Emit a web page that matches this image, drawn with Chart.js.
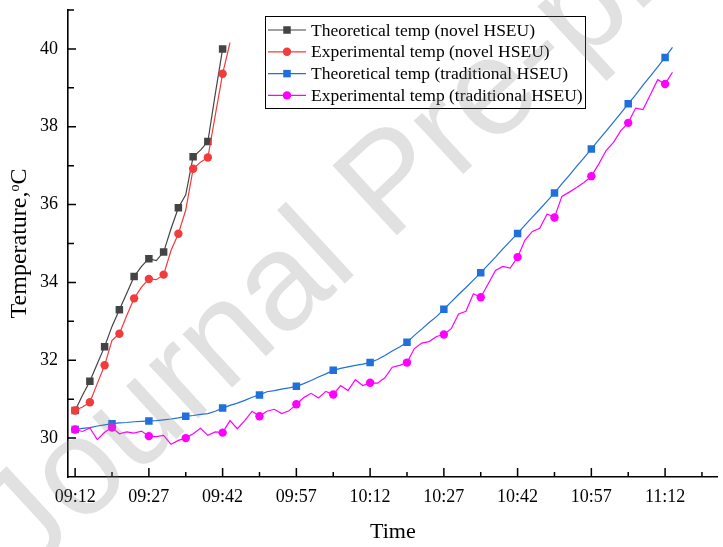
<!DOCTYPE html>
<html>
<head>
<meta charset="utf-8">
<script src="https://cdn.jsdelivr.net/npm/chart.js@4.4.1/dist/chart.umd.min.js"></script>
<style>
html, body { margin: 0; padding: 0; background: #fff; }
</style>
</head>
<body>
<canvas id="chart_temp" width="723" height="547"></canvas>
<script>
// time axis: minutes after 09:12, one reading every 1.5 min
const novelTimes = [0, 1.5, 3, 4.5, 6, 7.5, 9, 10.5, 12, 13.5, 15, 16.5, 18, 19.5, 21, 22.5, 24, 25.5, 27, 28.5, 30, 31.5];
const theoNovel = [30.71, 31.10, 31.46, 31.91, 32.35, 32.87, 33.30, 33.72, 34.15, 34.41, 34.61, 34.56, 34.78, 35.38, 35.92, 36.25, 37.23, 37.40, 37.62, 38.84, 40.00];
const expNovel = [30.71, 30.80, 30.92, 31.40, 31.87, 32.51, 32.68, 33.15, 33.59, 33.88, 34.09, 34.07, 34.20, 34.82, 35.25, 35.86, 36.92, 37.09, 37.21, 38.29, 39.36, 40.16];

const tradTimes = [0, 1.5, 3, 4.5, 6, 7.5, 9, 10.5, 12, 13.5,
  15, 16.5, 18, 19.5, 21, 22.5, 24, 25.5, 27, 28.5,
  30, 31.5, 33, 34.5, 36, 37.5, 39, 40.5, 42, 43.5,
  45, 46.5, 48, 49.5, 51, 52.5, 54, 55.5, 57, 58.5,
  60, 61.5, 63, 64.5, 66, 67.5, 69, 70.5, 72, 73.5,
  75, 76.5, 78, 79.5, 81, 82.5, 84, 85.5, 87, 88.5,
  90, 91.5, 93, 94.5, 96, 97.5, 99, 100.5, 102, 103.5,
  105, 106.5, 108, 109.5, 111, 112.5, 114, 115.5, 117, 118.5,
  120, 121.5];
const theoTrad = [30.22, 30.25, 30.27, 30.31, 30.34, 30.37, 30.39, 30.40, 30.42, 30.43,
  30.44, 30.45, 30.47, 30.49, 30.52, 30.56, 30.58, 30.61, 30.63, 30.69,
  30.77, 30.84, 30.90, 30.97, 31.05, 31.11, 31.19, 31.22, 31.26, 31.29,
  31.33, 31.40, 31.48, 31.57, 31.65, 31.74, 31.79, 31.83, 31.87, 31.90,
  31.94, 32.02, 32.12, 32.24, 32.34, 32.46, 32.64, 32.80, 32.97, 33.12,
  33.31, 33.50, 33.69, 33.87, 34.06, 34.25, 34.45, 34.65, 34.86, 35.06,
  35.26, 35.47, 35.68, 35.88, 36.09, 36.30, 36.53, 36.75, 36.98, 37.20,
  37.43, 37.66, 37.89, 38.12, 38.35, 38.59, 38.82, 39.07, 39.30, 39.54,
  39.78, 40.04];
const expTrad = [30.22, 30.17, 30.26, 29.96, 30.15, 30.27, 30.11, 30.16, 30.13, 30.18,
  30.05, 30.04, 30.07, 29.84, 29.94, 30.00, 30.11, 30.25, 30.07, 30.16,
  30.14, 30.45, 30.24, 30.45, 30.69, 30.56, 30.69, 30.74, 30.63, 30.70,
  30.87, 31.04, 31.15, 31.03, 31.20, 31.12, 31.35, 31.22, 31.50, 31.35,
  31.42, 31.41, 31.55, 31.82, 31.87, 31.94, 32.30, 32.44, 32.48, 32.61,
  32.66, 32.81, 33.19, 33.26, 33.71, 33.62, 33.96, 34.31, 34.41, 34.37,
  34.65, 35.09, 35.31, 35.39, 35.76, 35.67, 36.21, 36.32, 36.44, 36.57,
  36.73, 37.04, 37.39, 37.60, 37.90, 38.10, 38.48, 38.44, 38.82, 39.21,
  39.10, 39.40];

const seriesNames = ['Theoretical temp (novel HSEU)', 'Experimental temp (novel HSEU)',
  'Theoretical temp (traditional HSEU)', 'Experimental temp (traditional HSEU)'];

const xTickValues = [0, 15, 30, 45, 60, 75, 90, 105, 120];
const xTickLabels = ['09:12', '09:27', '09:42', '09:57', '10:12', '10:27', '10:42', '10:57', '11:12'];
const xMinorValues = [7.5, 22.5, 37.5, 52.5, 67.5, 82.5, 97.5, 112.5, 127.5];
const yTickValues = [30, 32, 34, 36, 38, 40];
const yMinorValues = [31, 33, 35, 37, 39, 41];

const serif = '"Liberation Serif", "Times New Roman", serif';

function pairs(times, vals) {
  return vals.map((v, i) => ({ x: times[i], y: v }));
}

function series(label, times, vals, color, style, every, order) {
  return {
    label: label,
    data: pairs(times, vals),
    borderColor: color,
    backgroundColor: color,
    borderWidth: 1.2,
    tension: 0,
    pointStyle: style,
    pointRadius: ctx => ctx.dataIndex % every === 0 ? (style === 'rect' ? 5.3 : 4.2) : 0,
    pointHoverRadius: 0,
    pointBorderWidth: 0,
    order: order
  };
}

// marker shape used in the legend box
function marker(ctx, style, x, y, color) {
  ctx.fillStyle = color;
  if (style === 'rect') {
    ctx.fillRect(x - 3.75, y - 3.75, 7.5, 7.5);
  } else {
    ctx.beginPath();
    ctx.arc(x, y, 4.2, 0, Math.PI * 2);
    ctx.fill();
  }
}

const extras = {
  id: 'extras',
  afterDraw(chart) {
    const ctx = chart.ctx;
    const xs = chart.scales.x, ys = chart.scales.y;
    const area = chart.chartArea;
    ctx.save();
    // inward ticks
    ctx.strokeStyle = '#000';
    ctx.lineWidth = 1.5;
    ctx.beginPath();
    xTickValues.forEach(v => { const p = xs.getPixelForValue(v); ctx.moveTo(p, area.bottom); ctx.lineTo(p, area.bottom - 9); });
    xMinorValues.forEach(v => { const p = xs.getPixelForValue(v); ctx.moveTo(p, area.bottom); ctx.lineTo(p, area.bottom - 5); });
    yTickValues.forEach(v => { const p = ys.getPixelForValue(v); ctx.moveTo(area.left, p); ctx.lineTo(area.left + 8, p); });
    yMinorValues.forEach(v => { const p = ys.getPixelForValue(v); ctx.moveTo(area.left, p); ctx.lineTo(area.left + 6, p); });
    ctx.stroke();

    // legend box
    const bx = 265, by = 16, bw = 320, bh = 92;
    ctx.fillStyle = '#fff';
    ctx.fillRect(bx, by, bw, bh);
    ctx.strokeStyle = '#000';
    ctx.lineWidth = 1;
    ctx.strokeRect(bx + 0.5, by + 0.5, bw, bh);
    ctx.font = '17.5px ' + serif;
    ctx.textBaseline = 'middle';
    ctx.textAlign = 'left';
    chart.data.datasets.forEach((ds, i) => {
      const ry = by + 14 + i * 21.8;
      ctx.strokeStyle = ds.borderColor;
      ctx.lineWidth = 1.2;
      ctx.beginPath();
      ctx.moveTo(bx + 3, ry);
      ctx.lineTo(bx + 41, ry);
      ctx.stroke();
      marker(ctx, ds.pointStyle, bx + 22, ry, ds.borderColor);
      ctx.fillStyle = '#000';
      ctx.fillText(ds.label, bx + 46, ry + 1);
    });

    // watermark
    ctx.translate(2, 548);
    ctx.rotate(-42.7 * Math.PI / 180);
    ctx.font = '138px "Liberation Sans", Arial, sans-serif';
    ctx.fillStyle = 'rgba(128,128,128,0.24)';
    ctx.fillText('Journal Pre-proof', 0, 0);
    ctx.restore();
  }
};

const elem = document.getElementById('chart_temp');
const chart = new Chart(elem.getContext('2d'), {
  type: 'line',
  data: {
    datasets: [
      series(seriesNames[0], novelTimes, theoNovel, '#444444', 'rect', 2, 3),
      series(seriesNames[1], novelTimes, expNovel, '#f23b3b', 'circle', 2, 2),
      series(seriesNames[2], tradTimes, theoTrad, '#1f6fdc', 'rect', 5, 1),
      series(seriesNames[3], tradTimes, expTrad, '#ff00ff', 'circle', 5, 0)
    ]
  },
  options: {
    responsive: false,
    animation: false,
    devicePixelRatio: 1,
    layout: { padding: { top: 0, right: 0, left: 0, bottom: 0 } },
    plugins: { legend: { display: false }, tooltip: { enabled: false } },
    scales: {
      x: {
        type: 'linear',
        min: -1.45,
        max: 130.7,
        afterBuildTicks: s => { s.ticks = xTickValues.map(v => ({ value: v })); },
        afterFit: s => { s.height = 70; },
        grid: { display: false, drawTicks: false },
        border: { display: true, color: '#000', width: 1.6 },
        ticks: {
          autoSkip: false, maxRotation: 0, padding: 9, color: '#000',
          font: { family: serif, size: 18 },
          callback: (v, i) => xTickLabels[i]
        },
        title: { display: true, text: 'Time', color: '#000', font: { family: serif, size: 22 }, padding: { top: 0, bottom: 2 } }
      },
      y: {
        min: 29,
        max: 41,
        afterBuildTicks: s => { s.ticks = yTickValues.map(v => ({ value: v })); },
        afterFit: s => { s.width = 68; s.paddingTop = 10; s.paddingBottom = 0; },
        grid: { display: false, drawTicks: false },
        border: { display: true, color: '#000', width: 1.6 },
        ticks: { padding: 10, color: '#000', font: { family: serif, size: 18 } },
        title: { display: true, text: 'Temperature,ᵒC', color: '#000', font: { family: serif, size: 24 }, padding: { top: 5, bottom: 0 } }
      }
    }
  },
  plugins: [extras]
});
</script>
</body>
</html>
